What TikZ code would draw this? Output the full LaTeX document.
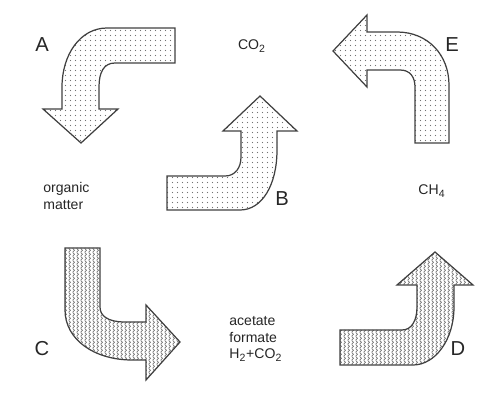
\documentclass[tikz,border=0pt]{standalone}
\usepackage{fontspec}
\setmainfont{Liberation Sans}
\usetikzlibrary{patterns}

\pgfdeclarepatternformonly{finedots}{\pgfqpoint{-1pt}{-1pt}}{\pgfqpoint{1.9pt}{1.9pt}}{\pgfqpoint{2.9pt}{2.9pt}}{%
  \pgfpathcircle{\pgfqpoint{0pt}{0pt}}{.36pt}\pgfusepath{fill}}
\pgfdeclarepatternformonly{vwaves}{\pgfqpoint{0pt}{0pt}}{\pgfqpoint{2.3pt}{2.4pt}}{\pgfqpoint{2.3pt}{2.4pt}}{%
  \pgfsetlinewidth{.38pt}
  \pgfpathmoveto{\pgfqpoint{.55pt}{0pt}}
  \pgfpathcurveto{\pgfqpoint{.55pt}{.5pt}}{\pgfqpoint{1.75pt}{.7pt}}{\pgfqpoint{1.75pt}{1.2pt}}
  \pgfpathcurveto{\pgfqpoint{1.75pt}{1.7pt}}{\pgfqpoint{.55pt}{1.9pt}}{\pgfqpoint{.55pt}{2.4pt}}
  \pgfusepath{stroke}}

\tikzset{
  dotarrow/.style={draw=black!75, line width=.7pt, line join=miter, pattern=finedots, pattern color=black!55},
  wavearrow/.style={draw=black!75, line width=.7pt, line join=miter, pattern=vwaves, pattern color=black!65},
  biglab/.style={font=\fontsize{11.5}{13}\selectfont, text=black!85},
  smalllab/.style={font=\fontsize{8}{9.5}\selectfont, text=black!85}
}

\begin{document}
\begin{tikzpicture}[x=0.02cm, y=-0.02cm]
    \useasboundingbox (0,0) rectangle (498,405);

    % upper left: A
    \filldraw[dotarrow] (175,28) -- (107,28) .. controls (80,28) and (62,55) .. (62,87) -- (62,109) -- (43,109) -- (81,143) -- (118,109) -- (99,109) -- (99,87) .. controls (99,72) and (104,63) .. (115,63) -- (175,63) -- cycle;
    % middle: B
    \filldraw[dotarrow] (167,176) -- (225,176) .. controls (235,176) and (241,168) .. (241,157) -- (241,131) -- (223,131) -- (260,96) -- (297,131) -- (277,131) -- (277,150) .. controls (277,185) and (262,210) .. (240,210) -- (167,210) -- cycle;
    % upper right: E
    \filldraw[dotarrow] (415,143) -- (415,87) .. controls (415,77) and (410,70) .. (400,70) -- (367,70) -- (367,87) -- (333,51) -- (367,15) -- (367,32) -- (397,32) .. controls (428,32) and (449,55) .. (449,85) -- (449,143) -- cycle;
    % lower left: C
    \filldraw[wavearrow] (65,248) -- (100,248) -- (100,307) .. controls (100,316) and (108,322) .. (125,322) -- (146,322) -- (146,305) -- (180,342) -- (146,380) -- (146,360) -- (132,360) .. controls (95,360) and (65,340) .. (65,310) -- cycle;
    % lower right: D
    \filldraw[wavearrow] (340,330) -- (402,330) .. controls (412,330) and (417,320) .. (417,307) -- (417,285) -- (397,285) -- (435,252) -- (473,285) -- (454,285) -- (454,307) .. controls (454,340) and (435,365) .. (413,365) -- (340,365) -- cycle;

    \node[biglab] (labA) at (42,45) {A};
    \node[biglab] (labB) at (282,199) {B};
    \node[biglab] (labC) at (42,349) {C};
    \node[biglab] (labD) at (458,349) {D};
    \node[biglab] (labE) at (452,45) {E};

    \node[smalllab] (co2) at (252,46) {CO\textsubscript{2}};
    \node[smalllab] (ch4) at (432,191) {CH\textsubscript{4}};
    \node[smalllab, align=left, anchor=west, inner sep=0pt] (organic) at (43,196) {organic\\matter};
    \node[smalllab, align=left, anchor=west, inner sep=0pt] (acetate) at (229,339) {acetate\\formate\\H\textsubscript{2}+CO\textsubscript{2}};
\end{tikzpicture}
\end{document}
